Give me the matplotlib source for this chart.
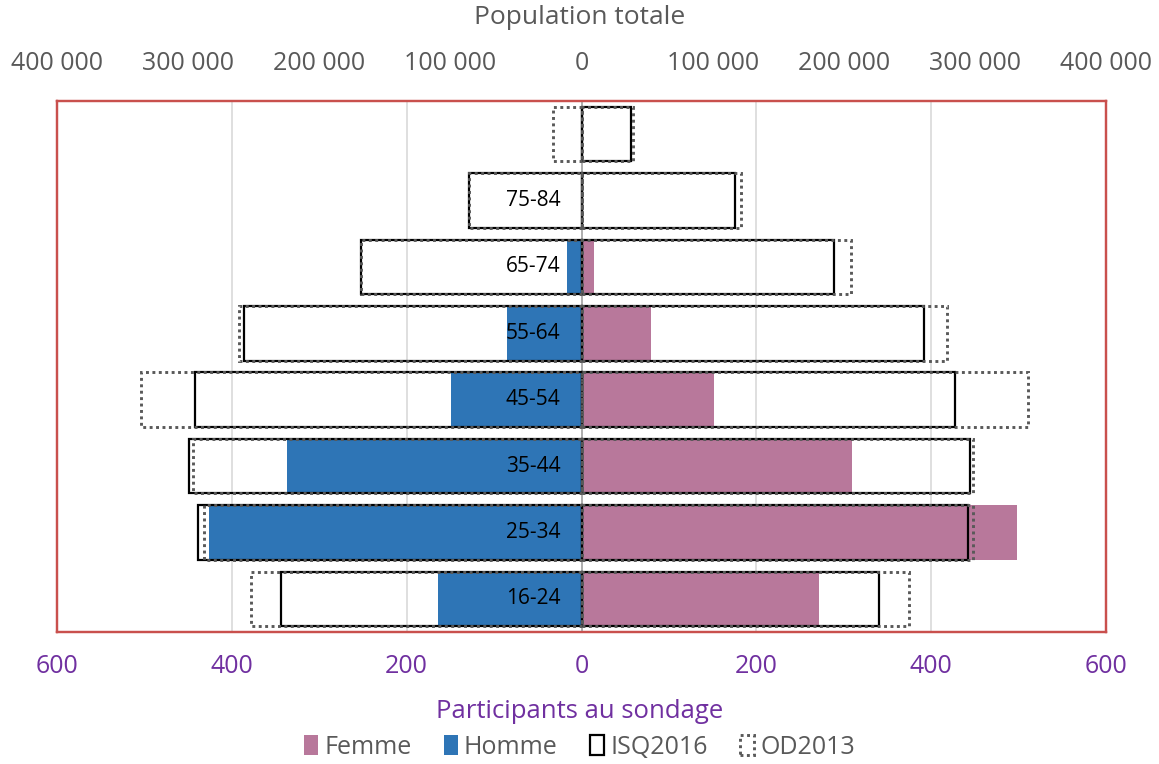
"""
Pyramide des âges : participants au sondage vs population totale (ISQ2016, OD2013).
"""

import matplotlib.pyplot as plt
from matplotlib.patches import Patch

plt.rcParams['font.family'] = ['Open Sans', 'DejaVu Sans']

# age groups, bottom to top
age_groups = ["16-24", "25-34", "35-44", "45-54", "55-64", "65-74", "75-84", "85+"]
age_labels = ["16-24", "25-34", "35-44", "45-54", "55-64", "65-74", "75-84", ""]

# survey participants (bottom axis)
homme = [164, 426, 337, 149, 85, 17, 0, 0]
femme = [272, 498, 310, 152, 80, 14, 0, 0]

# total population (top axis)
isq2016_homme = [229200, 292700, 299100, 294500, 257200, 168200, 85600, 0]
isq2016_femme = [226600, 295000, 296500, 284800, 261000, 192300, 117300, 37700]
od2013_homme = [252000, 287600, 296500, 335900, 261000, 168200, 85600, 22000]
od2013_femme = [249500, 298300, 298300, 340700, 278700, 205500, 121600, 38900]

part_ticks = [-600, -400, -200, 0, 200, 400, 600]
pop_ticks = [-400000, -300000, -200000, -100000, 0, 100000, 200000, 300000, 400000]

COL_FEMME = "#B8789B"
COL_HOMME = "#2E75B6"
COL_FRAME = "#C9504D"
COL_GREY_TXT = "#595959"
COL_PURPLE = "#7030A0"
COL_DOTS = "#595959"
BAR_H = 0.82
FS = 18
DOTS = (0, (1, 1.2))


def _pop_label(v):
    return f"{abs(v):,}".replace(",", " ")


fig = plt.figure(figsize=(11.59, 7.64), dpi=100)
ax = fig.add_axes([57 / 1159, 1 - 632 / 764, 1049 / 1159, 531 / 764])
ax2 = ax.twiny()

y = list(range(len(age_groups)))

# participants
ax.barh(y, [-v for v in homme], height=BAR_H, color=COL_HOMME, zorder=2)
ax.barh(y, femme, height=BAR_H, color=COL_FEMME, zorder=2)
ax.axvline(0, color="#A6A6A6", lw=1.2, zorder=3)

ax.set_xlim(-600, 600)
ax.set_ylim(-0.5, len(age_groups) - 0.5)
ax.set_xticks(part_ticks)
ax.set_xticklabels([str(abs(t)) for t in part_ticks])
ax.set_yticks([])
ax.tick_params(axis="x", length=0, pad=16, labelsize=FS, labelcolor=COL_PURPLE)
ax.grid(axis="x", color="#D9D9D9", lw=1.2)
ax.set_axisbelow(True)

for i, lab in enumerate(age_labels):
    ax.annotate(lab, (0, i), xytext=(-15, 0), textcoords="offset points",
                ha="right", va="center", fontsize=15, color="black", zorder=6)

# population outlines
ax2.barh(y, [-v for v in isq2016_homme], height=BAR_H, fill=False,
         edgecolor="black", lw=1.6, zorder=4)
ax2.barh(y, isq2016_femme, height=BAR_H, fill=False,
         edgecolor="black", lw=1.6, zorder=4)
ax2.barh(y, [-v for v in od2013_homme], height=BAR_H, fill=False,
         edgecolor=COL_DOTS, lw=2.1, linestyle=DOTS, zorder=5)
ax2.barh(y, od2013_femme, height=BAR_H, fill=False,
         edgecolor=COL_DOTS, lw=2.1, linestyle=DOTS, zorder=5)

ax2.set_xlim(-400000, 400000)
ax2.set_xticks(pop_ticks)
ax2.set_xticklabels([_pop_label(t) for t in pop_ticks])
ax2.tick_params(axis="x", length=0, pad=18, labelsize=FS, labelcolor=COL_GREY_TXT)

for a in (ax, ax2):
    for s in a.spines.values():
        s.set_color(COL_FRAME)
        s.set_linewidth(1.6)

fig.text(0.5, 1 - 18 / 764, "Population totale", ha="center", va="center",
         fontsize=19, color=COL_GREY_TXT)
fig.text(0.5, 1 - 712 / 764, "Participants au sondage", ha="center", va="center",
         fontsize=18.5, color=COL_PURPLE)

handles = [
    Patch(facecolor=COL_FEMME, edgecolor="none", label="Femme"),
    Patch(facecolor=COL_HOMME, edgecolor="none", label="Homme"),
    Patch(facecolor="white", edgecolor="black", lw=1.6, label="ISQ2016"),
    Patch(facecolor="white", edgecolor=COL_DOTS, lw=2.1, linestyle=DOTS, label="OD2013"),
]
leg = fig.legend(handles=handles, loc="center", bbox_to_anchor=(0.5, 1 - 747 / 764),
                 ncol=4, frameon=False, fontsize=FS, handlelength=0.55, handleheight=0.9,
                 handletextpad=0.25, columnspacing=1.3)
for t in leg.get_texts():
    t.set_color(COL_GREY_TXT)

fig.savefig("out.png", dpi=100)
